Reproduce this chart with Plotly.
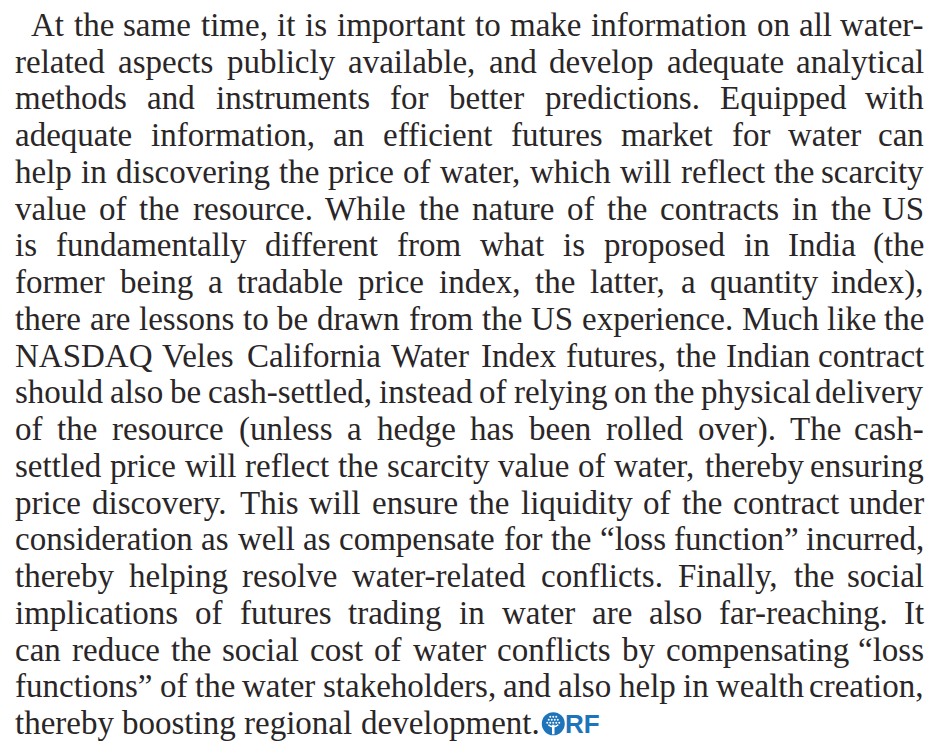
import plotly.graph_objects as go

# ---- data: the paragraph, line by line as typeset ----
lines = [
    "At the same time, it is important to make information on all water-",
    "related aspects publicly available, and develop adequate analytical",
    "methods and instruments for better predictions. Equipped with",
    "adequate information, an efficient futures market for water can",
    "help in discovering the price of water, which will reflect the scarcity",
    "value of the resource. While the nature of the contracts in the US",
    "is fundamentally different from what is proposed in India (the",
    "former being a tradable price index, the latter, a quantity index),",
    "there are lessons to be drawn from the US experience. Much like the",
    "NASDAQ Veles California Water Index futures, the Indian contract",
    "should also be cash-settled, instead of relying on the physical delivery",
    "of the resource (unless a hedge has been rolled over). The cash-",
    "settled price will reflect the scarcity value of water, thereby ensuring",
    "price discovery. This will ensure the liquidity of the contract under",
    "consideration as well as compensate for the \u201closs function\u201d incurred,",
    "thereby helping resolve water-related conflicts. Finally, the social",
    "implications of futures trading in water are also far-reaching. It",
    "can reduce the social cost of water conflicts by compensating \u201closs",
    "functions\u201d of the water stakeholders, and also help in wealth creation,",
    "thereby boosting regional development.",
]
logo_text = "RF"

# ---- styling / layout ----
W, H = 944, 751
FONT = "Liberation Serif"
SIZE = 33
COLOR = "#2a2627"
BLUE = "#1e74ba"
LEFT, RIGHT, INDENT = 14, 925, 30
BASE0, LEAD = 36, 36.75

# Times/Liberation Serif advance widths (per 1000 em)
AFM = {' ': 250, '!': 333, '(': 333, ')': 333, ',': 250, '-': 333, '.': 250,
       ':': 278, ';': 278, '\u201c': 444, '\u201d': 444, "'": 333,
       'A': 722, 'B': 667, 'C': 667, 'D': 722, 'E': 611, 'F': 556, 'G': 722,
       'H': 722, 'I': 333, 'J': 389, 'K': 722, 'L': 611, 'M': 889, 'N': 722,
       'O': 722, 'P': 556, 'Q': 722, 'R': 667, 'S': 556, 'T': 611, 'U': 722,
       'V': 722, 'W': 944, 'X': 722, 'Y': 722, 'Z': 611,
       'a': 444, 'b': 500, 'c': 444, 'd': 500, 'e': 444, 'f': 333, 'g': 500,
       'h': 500, 'i': 278, 'j': 278, 'k': 500, 'l': 278, 'm': 778, 'n': 500,
       'o': 500, 'p': 500, 'q': 500, 'r': 333, 's': 389, 't': 278, 'u': 500,
       'v': 500, 'w': 722, 'x': 500, 'y': 500, 'z': 444}


def width(word):
    return sum(AFM.get(c, 500) for c in word) * SIZE / 1000.0


def px(x):
    return x / W


def py(y):
    return 1 - y / H


annotations = []
last_end = 0
for i, line in enumerate(lines):
    words = line.split(" ")
    ws = [width(w) for w in words]
    x0 = INDENT if i == 0 else LEFT
    base = BASE0 + LEAD * i
    ymid = base - 0.3375 * SIZE
    justify = i < len(lines) - 1
    if justify and len(words) > 1:
        gap = (RIGHT - x0 - sum(ws)) / (len(words) - 1)
    else:
        gap = 0.25 * SIZE
    x = x0
    for j, (w, wd) in enumerate(zip(words, ws)):
        last = justify and j == len(words) - 1
        annotations.append(dict(
            text=w, xref="paper", yref="paper",
            x=px(RIGHT if last else x), y=py(ymid),
            xanchor="right" if last else "left", yanchor="middle",
            showarrow=False, borderpad=0,
            font=dict(family=FONT, size=SIZE, color=COLOR)))
        x += wd + gap
    if not justify:
        last_end = x - gap

# ---- ORF logo after the final line ----
base_last = BASE0 + LEAD * (len(lines) - 1)
cx, cy, r = last_end + 15, base_last - 10.5, 11.5
shapes = [dict(type="circle", xref="paper", yref="paper",
               x0=px(cx - r), x1=px(cx + r), y0=py(cy + r), y1=py(cy - r),
               fillcolor=BLUE, line=dict(width=0))]
# stylised tree: white canopy dots + trunk
for (dx, dy) in [(-6, -1), (-3, -1), (0, -1), (3, -1), (6, -1),
                 (-4.5, -4), (-1.5, -4), (1.5, -4), (4.5, -4),
                 (-3, -7), (0, -7), (3, -7)]:
    shapes.append(dict(type="circle", xref="paper", yref="paper",
                       x0=px(cx + dx - 1), x1=px(cx + dx + 1),
                       y0=py(cy + dy + 1), y1=py(cy + dy - 1),
                       fillcolor="white", line=dict(width=0)))
shapes.append(dict(type="line", xref="paper", yref="paper",
                   x0=px(cx), x1=px(cx), y0=py(cy + r - 1), y1=py(cy + 1),
                   line=dict(color="white", width=2.5)))
shapes.append(dict(type="path", xref="paper", yref="paper",
                   path=f"M {px(cx-5)} {py(cy+1)} Q {px(cx)} {py(cy+5)} {px(cx+5)} {py(cy+1)}",
                   line=dict(color="white", width=1.5)))
annotations.append(dict(
    text=f"<b>{logo_text}</b>", xref="paper", yref="paper",
    x=px(cx + r - 0.5), y=py(base_last + 5.5), xanchor="left", yanchor="bottom",
    showarrow=False, borderpad=0,
    font=dict(family="Liberation Sans Narrow, Liberation Sans, Arial", size=26, color=BLUE)))

fig = go.Figure()
fig.update_layout(
    width=W, height=H, margin=dict(l=0, r=0, t=0, b=0),
    paper_bgcolor="white", plot_bgcolor="white",
    xaxis=dict(visible=False, range=[0, 1]), yaxis=dict(visible=False, range=[0, 1]),
    annotations=annotations, shapes=shapes, showlegend=False)
fig.write_html("out.html", config={"displayModeBar": False},
               post_script="document.body.style.margin='0';document.body.style.overflow='hidden';")
